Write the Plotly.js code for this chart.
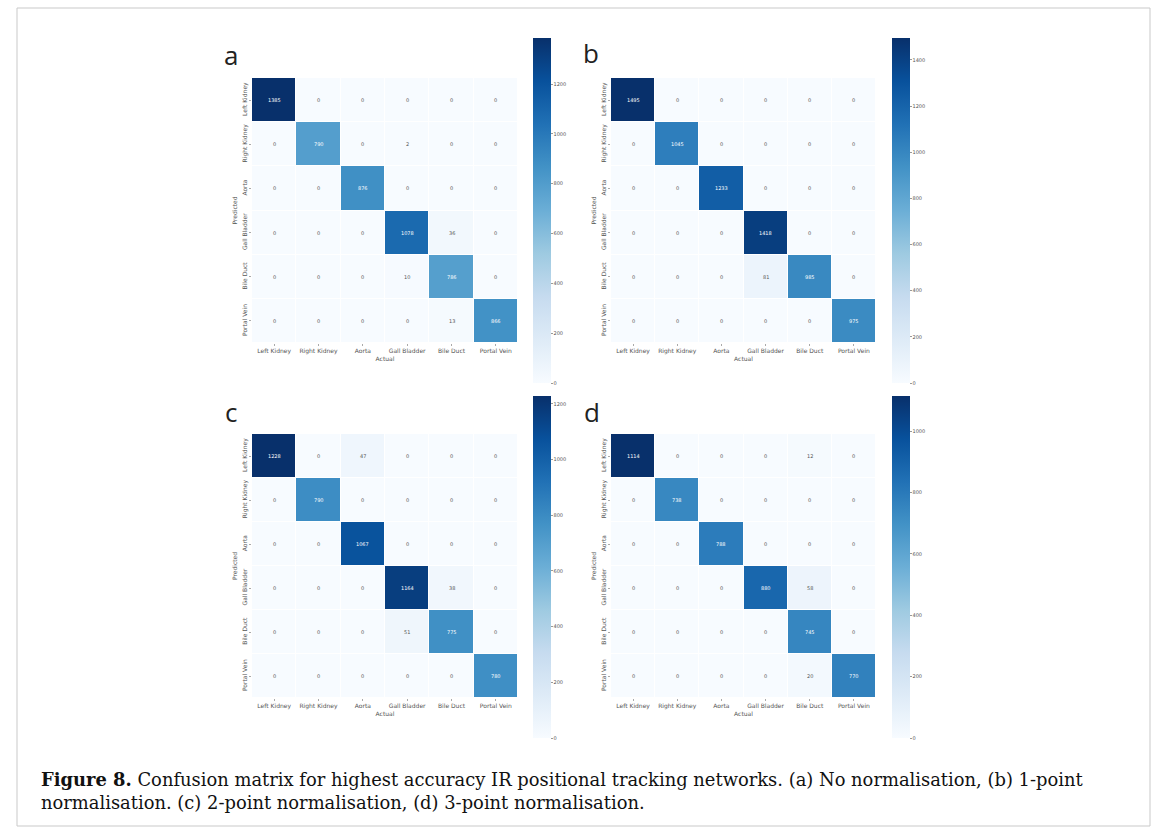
<!DOCTYPE html>
<html>
<head>
<meta charset="utf-8">
<script src="https://cdn.plot.ly/plotly-3.0.1.min.js"></script>
<style>html,body{margin:0;padding:0;background:#fff;}#chart{width:1167px;height:834px;}</style>
</head>
<body>
<div id="chart"></div>
<script>
// ---- data ----
const classes = ["Left Kidney", "Right Kidney", "Aorta", "Gall Bladder", "Bile Duct", "Portal Vein"];
const panelLetters = ["a", "b", "c", "d"];
const xTitle = "Actual";
const yTitle = "Predicted";

// rows = predicted, columns = actual
const matA = [
  [1385, 0, 0, 0, 0, 0],
  [0, 790, 0, 2, 0, 0],
  [0, 0, 876, 0, 0, 0],
  [0, 0, 0, 1078, 36, 0],
  [0, 0, 0, 10, 786, 0],
  [0, 0, 0, 0, 13, 866]
];
const matB = [
  [1495, 0, 0, 0, 0, 0],
  [0, 1045, 0, 0, 0, 0],
  [0, 0, 1233, 0, 0, 0],
  [0, 0, 0, 1418, 0, 0],
  [0, 0, 0, 81, 985, 0],
  [0, 0, 0, 0, 0, 975]
];
const matC = [
  [1228, 0, 47, 0, 0, 0],
  [0, 790, 0, 0, 0, 0],
  [0, 0, 1067, 0, 0, 0],
  [0, 0, 0, 1164, 38, 0],
  [0, 0, 0, 51, 775, 0],
  [0, 0, 0, 0, 0, 780]
];
const matD = [
  [1114, 0, 0, 0, 12, 0],
  [0, 738, 0, 0, 0, 0],
  [0, 0, 788, 0, 0, 0],
  [0, 0, 0, 880, 58, 0],
  [0, 0, 0, 0, 745, 0],
  [0, 0, 0, 0, 20, 770]
];
const matrices = [matA, matB, matC, matD];
const captionBold = "Figure 8.";
const captionText = " Confusion matrix for highest accuracy IR positional tracking networks. (a) No normalisation, (b) 1-point<br>normalisation. (c) 2-point normalisation, (d) 3-point normalisation.";

// ---- styling / layout ----
const W = 1167, H = 834;
const blues = [
  [0, "#f7fbff"], [0.125, "#deebf7"], [0.25, "#c6dbef"], [0.375, "#9ecae1"],
  [0.5, "#6baed6"], [0.625, "#4292c6"], [0.75, "#2171b5"], [0.875, "#08519c"], [1, "#08306b"]
];
// pixel boxes: [x0, x1, y0(top), y1(bottom)]
const mBoxes = [[252, 518, 78, 343], [611, 876, 78, 343], [252, 518, 434, 698], [611, 876, 434, 698]];
const cBoxes = [[533, 38, 383], [892, 38, 383], [533, 396, 738], [892, 396, 738]];
const letterPos = [[231, 55], [591, 53], [231, 412], [592, 412]];

const px = v => v / W;
const py = v => 1 - v / H;

const traces = [];
const layout = {
  width: W, height: H,
  margin: {l: 0, r: 0, t: 0, b: 0},
  paper_bgcolor: "#ffffff",
  plot_bgcolor: "#ffffff",
  showlegend: false,
  font: {family: "DejaVu Sans, sans-serif", color: "#444"},
  annotations: [],
  shapes: [{
    type: "rect", xref: "paper", yref: "paper",
    x0: px(17), x1: px(1150), y0: py(826), y1: py(8),
    line: {color: "#c9c9c9", width: 1}
  }]
};

matrices.forEach((m, i) => {
  const n = i + 1;
  const xa = n === 1 ? "x" : "x" + n;
  const ya = n === 1 ? "y" : "y" + n;
  const xk = n === 1 ? "xaxis" : "xaxis" + n;
  const yk = n === 1 ? "yaxis" : "yaxis" + n;
  const b = mBoxes[i];
  const c = cBoxes[i];
  let zmax = 0;
  m.forEach(r => r.forEach(v => { if (v > zmax) zmax = v; }));
  traces.push({
    type: "heatmap",
    x: classes, y: classes, z: m,
    xaxis: xa, yaxis: ya,
    colorscale: blues, zmin: 0, zmax: zmax,
    xgap: 1, ygap: 1,
    hoverinfo: "skip",
    colorbar: {
      x: px(c[0]), xanchor: "left", xpad: 0, ypad: 0,
      y: py((c[1] + c[2]) / 2), yanchor: "middle",
      len: (c[2] - c[1]) / H, lenmode: "fraction",
      thickness: 18, thicknessmode: "pixels",
      outlinewidth: 0,
      tick0: 0, dtick: 200,
      ticks: "outside", ticklen: 2, tickcolor: "#999",
      tickfont: {size: 5, color: "#555"}
    }
  });
  m.forEach((row, r) => row.forEach((v, k) => {
    layout.annotations.push({
      xref: xa, yref: ya, x: classes[k], y: classes[r],
      text: String(v), showarrow: false,
      font: {size: 5, color: v > 0.4 * zmax ? "#ffffff" : "#555555"}
    });
  }));
  layout[xk] = {
    domain: [px(b[0]), px(b[1])],
    anchor: ya,
    showgrid: false, zeroline: false, showline: false,
    ticks: "outside", ticklen: 2, tickcolor: "#aaa",
    tickfont: {size: 6, color: "#555"},
    tickangle: 0,
    title: {text: xTitle, font: {size: 6, color: "#555"}, standoff: 2}
  };
  layout[yk] = {
    domain: [py(b[3]), py(b[2])],
    anchor: xa,
    autorange: "reversed",
    showgrid: false, zeroline: false, showline: false,
    ticks: "outside", ticklen: 2, tickcolor: "#aaa",
    tickfont: {size: 6, color: "#555"},
    tickangle: -90,
    title: {text: yTitle, font: {size: 6, color: "#555"}, standoff: 2}
  };
  layout.annotations.push({
    xref: "paper", yref: "paper",
    x: px(letterPos[i][0]), y: py(letterPos[i][1]),
    xanchor: "center", yanchor: "middle",
    text: panelLetters[i], showarrow: false,
    font: {size: 26, family: "Open Sans, sans-serif", color: "#222"}
  });
});

layout.annotations.push({
  xref: "paper", yref: "paper",
  x: px(39), y: py(767),
  xanchor: "left", yanchor: "top", align: "left",
  text: "<b>" + captionBold + "</b>" + captionText,
  showarrow: false,
  font: {size: 17.9, family: "DejaVu Serif, serif", color: "#111"}
});

Plotly.newPlot("chart", traces, layout, {displayModeBar: false, staticPlot: true});
</script>
</body>
</html>
